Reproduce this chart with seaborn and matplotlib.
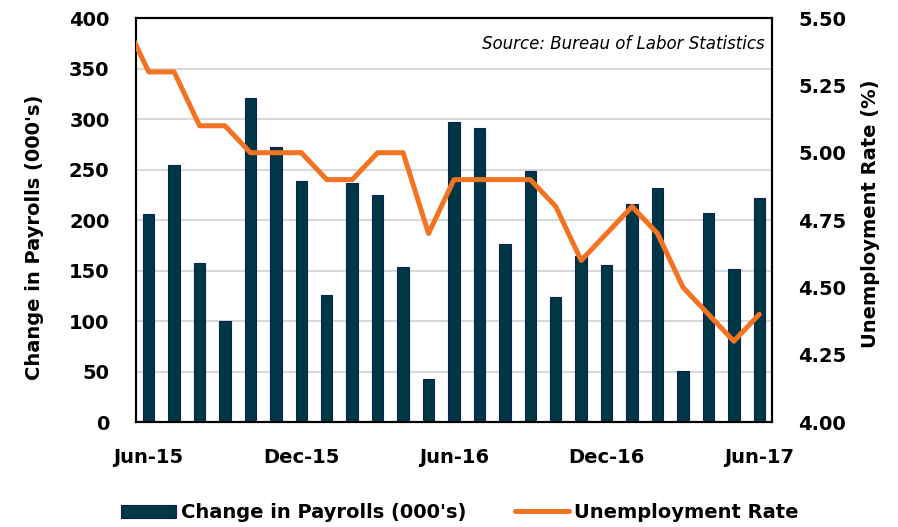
import numpy as np
import pandas as pd
import matplotlib
matplotlib.use("Agg")
import matplotlib.pyplot as plt
import seaborn as sns

# Monthly data, Jun-15 .. Jun-17 (bars), line also carries May-15 so it runs in from the left edge
months = ["Jun-15", "Jul-15", "Aug-15", "Sep-15", "Oct-15", "Nov-15", "Dec-15",
          "Jan-16", "Feb-16", "Mar-16", "Apr-16", "May-16", "Jun-16", "Jul-16",
          "Aug-16", "Sep-16", "Oct-16", "Nov-16", "Dec-16", "Jan-17", "Feb-17",
          "Mar-17", "Apr-17", "May-17", "Jun-17"]
payrolls = [206, 254, 157, 100, 321, 272, 239, 126, 237, 225, 153, 43, 297,
            291, 176, 249, 124, 164, 155, 216, 232, 51, 207, 152, 222]
rate_months = ["May-15"] + months
unemployment = [5.5, 5.3, 5.3, 5.1, 5.1, 5.0, 5.0, 5.0, 4.9, 4.9, 5.0, 5.0, 4.7,
                4.9, 4.9, 4.9, 4.9, 4.8, 4.6, 4.7, 4.8, 4.7, 4.5, 4.4, 4.3, 4.4]
tick_labels = ["Jun-15", "Dec-15", "Jun-16", "Dec-16", "Jun-17"]

bar_color = "#003745"
bar_edge = "#0B2458"
line_color = "#F47321"

sns.set_theme(style="white")
plt.rcParams["font.family"] = ["DejaVu Sans"]
plt.rcParams["text.color"] = "black"
plt.rcParams["axes.labelcolor"] = "black"
plt.rcParams["xtick.color"] = "black"
plt.rcParams["ytick.color"] = "black"

fig = plt.figure(figsize=(8.98, 5.27), dpi=100)
ax = fig.add_axes([0.1514, 0.1992, 0.7083, 0.7666])

df = pd.DataFrame({"month": months, "payrolls": payrolls})
sns.barplot(data=df, x="month", y="payrolls", color=bar_color, saturation=1,
            width=0.45, edgecolor=bar_edge, linewidth=0.8, ax=ax, zorder=2)
ax.set_xlim(-0.5, len(months) - 0.5)
ax.set_ylim(0, 400)
ax.set_yticks(np.arange(0, 401, 50))
ax.yaxis.grid(True, color="#D9D9D9", linewidth=1.5, zorder=0)
ax.set_axisbelow(True)
ax.set_xticks([months.index(m) for m in tick_labels])
ax.set_xticklabels(tick_labels)
ax.set_xlabel("")
ax.set_ylabel("Change in Payrolls (000's)", fontsize=14, fontweight="bold", labelpad=18)
ax.yaxis.label.set_y(0.458)
ax.tick_params(axis="x", length=0, labelsize=14, pad=19)
ax.tick_params(axis="y", length=0, labelsize=14, pad=19)
for lbl in ax.get_xticklabels() + ax.get_yticklabels():
    lbl.set_fontweight("bold")

ax2 = ax.twinx()
line_df = pd.DataFrame({"pos": np.arange(len(rate_months)) - 1, "rate": unemployment})
sns.lineplot(data=line_df, x="pos", y="rate", color=line_color, linewidth=3.6,
             ax=ax2, zorder=3)
ax2.set_xlim(-0.5, len(months) - 0.5)
ax2.set_ylim(4.0, 5.5)
ax2.set_yticks(np.arange(4.0, 5.51, 0.25))
ax2.set_yticklabels([f"{v:.2f}" for v in np.arange(4.0, 5.51, 0.25)])
ax2.set_ylabel("Unemployment Rate (%)", fontsize=14, fontweight="bold", labelpad=10)
ax2.yaxis.label.set_y(0.515)
ax2.set_xlabel("")
ax2.tick_params(axis="y", length=0, labelsize=14, pad=19)
for lbl in ax2.get_yticklabels():
    lbl.set_fontweight("bold")

for a in (ax, ax2):
    for s in a.spines.values():
        s.set_color("black")
        s.set_linewidth(1.5)

ax2.text(0.988, 0.935, "Source: Bureau of Labor Statistics", transform=ax2.transAxes,
         ha="right", va="center", fontsize=12, style="italic")

handles = [plt.Rectangle((0, 0), 1, 1, facecolor=bar_color, edgecolor=bar_edge, linewidth=0.8),
           plt.Line2D([0], [0], color=line_color, linewidth=3.6)]
fig.legend(handles, ["Change in Payrolls (000's)", "Unemployment Rate"],
           loc="center", bbox_to_anchor=(0.512, 0.027), ncol=2, frameon=False,
           prop={"size": 14, "weight": "bold"}, handlelength=2.8, handleheight=0.7,
           handletextpad=0.25, columnspacing=2.5)

fig.savefig("out.png", dpi=100)
